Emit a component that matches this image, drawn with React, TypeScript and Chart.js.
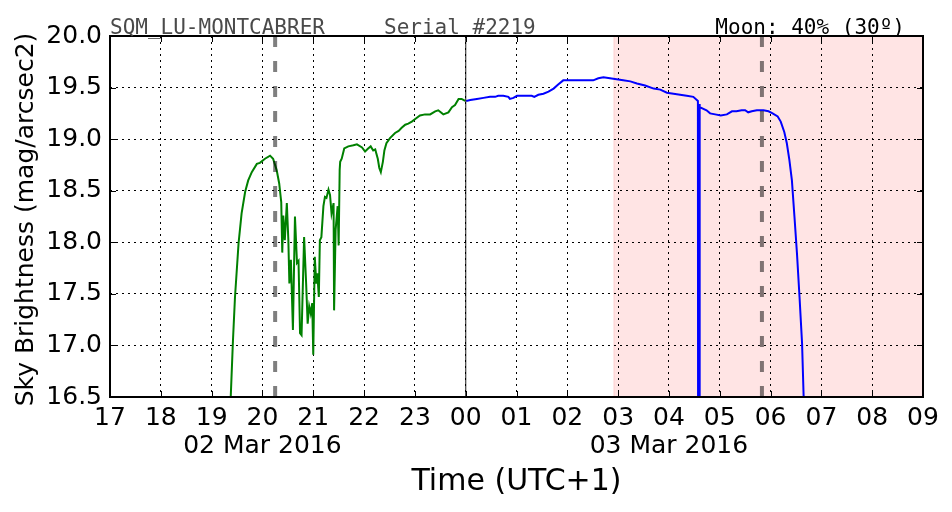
import React, { useEffect, useRef } from 'react';
import { Chart, registerables } from 'chart.js';

Chart.register(...registerables);

// ---- Axis ticks / labels ----
const HOUR_TICKS = [17, 18, 19, 20, 21, 22, 23, 24, 25, 26, 27, 28, 29, 30, 31, 32, 33];
const HOUR_LABELS = ['17', '18', '19', '20', '21', '22', '23', '00', '01', '02', '03', '04', '05', '06', '07', '08', '09'];
const DATE_TICK_POS = [20, 28];
const DATE_TICK_TEXT = ['02 Mar 2016', '03 Mar 2016'];
const Y_MIN = 16.5;
const Y_MAX = 20.0;
const Y_STEP = 0.5;

// ---- Header texts ----
const TITLE_STATION = 'SQM_LU-MONTCABRER';
const TITLE_SERIAL = 'Serial #2219';
const TITLE_MOON = 'Moon: 40% (30º)';
const X_TITLE = 'Time (UTC+1)';
const Y_TITLE = 'Sky Brightness (mag/arcsec2)';

// ---- Event markers (hours since 02 Mar 00:00) ----
const TWILIGHT_LINES = [20.25, 29.83];
const MIDNIGHT = 24;
const MOON_UP_FROM = 26.91;

// ---- Series: before midnight (green) ----
const GREEN_T = [
  19.36, 19.42, 19.46, 19.53, 19.59, 19.66, 19.72, 19.79, 19.89, 19.95,
  20.05, 20.15, 20.21, 20.28, 20.33, 20.37, 20.39, 20.41, 20.44, 20.48,
  20.51, 20.53, 20.56, 20.60, 20.64, 20.68, 20.71, 20.74, 20.77, 20.82,
  20.86, 20.89, 20.92, 20.95, 20.98, 21.00, 21.03, 21.06, 21.08, 21.11,
  21.13, 21.16, 21.20, 21.23, 21.26, 21.30, 21.33, 21.36, 21.40, 21.41,
  21.44, 21.48, 21.50, 21.52, 21.53, 21.56, 21.61, 21.69, 21.79, 21.86,
  21.96, 22.02, 22.08, 22.13, 22.18, 22.22, 22.27, 22.30, 22.33, 22.37,
  22.40, 22.44, 22.51, 22.61, 22.68, 22.74, 22.81, 22.87, 22.94, 23.02,
  23.10, 23.20, 23.30, 23.40, 23.46, 23.56, 23.66, 23.73, 23.79, 23.86,
  23.92, 23.99,
];
const GREEN_V = [
  16.30, 17.05, 17.47, 17.99, 18.28, 18.49, 18.60, 18.68, 18.76, 18.77,
  18.81, 18.84, 18.81, 18.70, 18.57, 18.39, 17.90, 18.26, 18.02, 18.38,
  18.02, 17.60, 17.83, 17.15, 18.25, 17.80, 17.82, 17.12, 17.10, 18.05,
  17.60, 17.21, 17.38, 17.31, 17.41, 16.91, 17.86, 17.60, 17.70, 17.47,
  18.02, 18.05, 18.35, 18.44, 18.43, 18.51, 18.46, 18.28, 18.38, 17.34,
  18.12, 18.35, 17.97, 18.70, 18.78, 18.81, 18.91, 18.93, 18.94, 18.95,
  18.92, 18.88, 18.91, 18.93, 18.89, 18.90, 18.81, 18.72, 18.68, 18.78,
  18.89, 18.96, 19.01, 19.06, 19.08, 19.11, 19.14, 19.15, 19.17, 19.20,
  19.23, 19.24, 19.24, 19.27, 19.28, 19.24, 19.26, 19.31, 19.33, 19.39,
  19.39, 19.37,
];

// ---- Series: after midnight (blue) ----
const BLUE_T = [
  24.01, 24.09, 24.22, 24.35, 24.48, 24.58, 24.64, 24.74, 24.84, 24.87,
  24.94, 25.01, 25.10, 25.20, 25.30, 25.35, 25.43, 25.53, 25.63, 25.73,
  25.82, 25.92, 26.02, 26.15, 26.28, 26.41, 26.51, 26.61, 26.71, 26.84,
  26.97, 27.10, 27.24, 27.37, 27.53, 27.70, 27.83, 27.96, 28.09, 28.22,
  28.35, 28.48, 28.57, 28.575, 28.595, 28.60, 28.61, 28.74, 28.81, 28.91,
  29.02, 29.14, 29.24, 29.33, 29.43, 29.50, 29.56, 29.63, 29.73, 29.86,
  29.96, 30.04, 30.14, 30.20, 30.27, 30.32, 30.37, 30.42, 30.47, 30.52,
  30.57, 30.62, 30.65, 30.67,
];
const BLUE_V = [
  19.37, 19.38, 19.39, 19.40, 19.41, 19.41, 19.42, 19.42, 19.41, 19.39,
  19.40, 19.42, 19.42, 19.42, 19.42, 19.41, 19.43, 19.44, 19.46, 19.49,
  19.53, 19.57, 19.57, 19.57, 19.57, 19.57, 19.57, 19.59, 19.60, 19.59,
  19.58, 19.57, 19.56, 19.54, 19.52, 19.49, 19.48, 19.45, 19.44, 19.43,
  19.42, 19.41, 19.37, 15.00, 15.00, 19.34, 19.31, 19.28, 19.25, 19.24,
  19.23, 19.24, 19.27, 19.27, 19.28, 19.28, 19.26, 19.27, 19.28, 19.28,
  19.27, 19.25, 19.22, 19.17, 19.07, 18.96, 18.80, 18.60, 18.25, 17.89,
  17.47, 17.02, 16.52, 16.30,
];

const toPoints = (t: number[], v: number[]) => t.map((x, i) => ({ x, y: v[i] }));

const overlayPlugin = {
  id: 'sqmOverlays',
  beforeDraw(chart: any) {
    const { ctx, chartArea: a, scales } = chart;
    const x0 = scales.x.getPixelForValue(MOON_UP_FROM);
    ctx.save();
    ctx.fillStyle = 'rgba(255, 0, 0, 0.105)';
    ctx.fillRect(x0, a.top, a.right - x0, a.bottom - a.top);
    ctx.strokeStyle = 'rgba(255, 0, 0, 0.10)';
    ctx.lineWidth = 1;
    ctx.beginPath();
    ctx.moveTo(x0 + 0.5, a.top);
    ctx.lineTo(x0 + 0.5, a.bottom);
    ctx.stroke();
    ctx.restore();
  },
  afterDatasetsDraw(chart: any) {
    const { ctx, chartArea: a, scales } = chart;
    ctx.save();
    // midnight line
    const xm = scales.x.getPixelForValue(MIDNIGHT);
    ctx.strokeStyle = 'rgba(0,0,0,0.7)';
    ctx.lineWidth = 1.3;
    ctx.beginPath();
    ctx.moveTo(xm, a.top);
    ctx.lineTo(xm, a.bottom);
    ctx.stroke();
    // twilight dashed lines
    ctx.strokeStyle = 'rgba(0,0,0,0.5)';
    ctx.lineWidth = 4;
    ctx.setLineDash([11, 14]);
    ctx.lineCap = 'butt';
    TWILIGHT_LINES.forEach((t) => {
      const px = scales.x.getPixelForValue(t);
      ctx.beginPath();
      ctx.moveTo(px, a.top);
      ctx.lineTo(px, a.bottom);
      ctx.stroke();
    });
    ctx.restore();
  },
  afterDraw(chart: any) {
    const { ctx, chartArea: a, scales } = chart;
    ctx.save();
    // inward ticks
    ctx.strokeStyle = '#000';
    ctx.lineWidth = 1;
    const tl = 6;
    scales.x.ticks.forEach((tk: any) => {
      const px = Math.round(scales.x.getPixelForValue(tk.value)) + 0.5;
      ctx.beginPath();
      ctx.moveTo(px, a.bottom);
      ctx.lineTo(px, a.bottom - tl);
      ctx.moveTo(px, a.top);
      ctx.lineTo(px, a.top + tl);
      ctx.stroke();
    });
    scales.y.ticks.forEach((tk: any) => {
      const py = Math.round(scales.y.getPixelForValue(tk.value)) + 0.5;
      ctx.beginPath();
      ctx.moveTo(a.left, py);
      ctx.lineTo(a.left + tl, py);
      ctx.moveTo(a.right, py);
      ctx.lineTo(a.right - tl, py);
      ctx.stroke();
    });
    // frame
    ctx.lineWidth = 2;
    ctx.strokeRect(a.left, a.top, a.right - a.left, a.bottom - a.top);
    // header texts
    ctx.font = '21px "DejaVu Sans Mono", monospace';
    ctx.textBaseline = 'alphabetic';
    ctx.fillStyle = '#4a4a4a';
    ctx.textAlign = 'left';
    ctx.fillText(TITLE_STATION, a.left, 34);
    ctx.fillText(TITLE_SERIAL, 384, 34);
    ctx.fillStyle = '#000';
    ctx.textAlign = 'right';
    ctx.fillText(TITLE_MOON, 905, 34);
    // y title
    ctx.font = '25px "DejaVu Sans", sans-serif';
    ctx.textAlign = 'center';
    ctx.translate(33, (a.top + a.bottom) / 2 + 3);
    ctx.rotate(-Math.PI / 2);
    ctx.fillText(Y_TITLE, 0, 0);
    ctx.restore();
  },
};

export default function App() {
  const ref = useRef<HTMLCanvasElement | null>(null);

  useEffect(() => {
    document.body.style.margin = '0';
    const canvas = ref.current;
    if (!canvas) return;
    const chart = new Chart(canvas, {
      type: 'line',
      data: {
        datasets: [
          {
            data: toPoints(GREEN_T, GREEN_V),
            borderColor: '#008000',
            borderWidth: 2,
            pointRadius: 0,
            fill: false,
            tension: 0,
          },
          {
            data: toPoints(BLUE_T, BLUE_V),
            borderColor: '#0000ff',
            borderWidth: 2,
            pointRadius: 0,
            fill: false,
            tension: 0,
          },
        ],
      },
      options: {
        responsive: false,
        animation: false,
        devicePixelRatio: 1,
        layout: { padding: { top: 36, right: 29, bottom: 0, left: 0 } },
        plugins: {
          legend: { display: false },
          tooltip: { enabled: false },
        },
        scales: {
          x: {
            type: 'linear',
            min: HOUR_TICKS[0],
            max: HOUR_TICKS[HOUR_TICKS.length - 1],
            afterFit: (s: any) => {
              s.height = 115;
            },
            border: { display: false, dash: [2, 4] },
            grid: { color: '#000', lineWidth: 1, drawTicks: false },
            ticks: {
              stepSize: 1,
              autoSkip: false,
              maxRotation: 0,
              padding: 7,
              color: '#000',
              font: { family: '"DejaVu Sans", sans-serif', size: 25, lineHeight: 1.12 },
              callback: (v: any) => {
                const i = HOUR_TICKS.indexOf(Number(v));
                if (i < 0) return '';
                const d = DATE_TICK_POS.indexOf(Number(v));
                return d >= 0 ? [HOUR_LABELS[i], DATE_TICK_TEXT[d]] : HOUR_LABELS[i];
              },
            },
            title: {
              display: true,
              text: X_TITLE,
              color: '#000',
              font: { family: '"DejaVu Sans", sans-serif', size: 30, lineHeight: 1.2 },
              padding: { top: 0, bottom: 12 },
            },
          },
          y: {
            min: Y_MIN,
            max: Y_MAX,
            afterFit: (s: any) => {
              s.width = 110;
            },
            border: { display: false, dash: [2, 4] },
            grid: { color: '#000', lineWidth: 1, drawTicks: false },
            ticks: {
              stepSize: Y_STEP,
              autoSkip: false,
              padding: 8,
              color: '#000',
              font: { family: '"DejaVu Sans", sans-serif', size: 25 },
              callback: (v: any) => Number(v).toFixed(1),
            },
          },
        },
      },
      plugins: [overlayPlugin],
    } as any);
    return () => chart.destroy();
  }, []);

  return <canvas ref={ref} width={952} height={512} style={{ display: 'block' }} />;
}
